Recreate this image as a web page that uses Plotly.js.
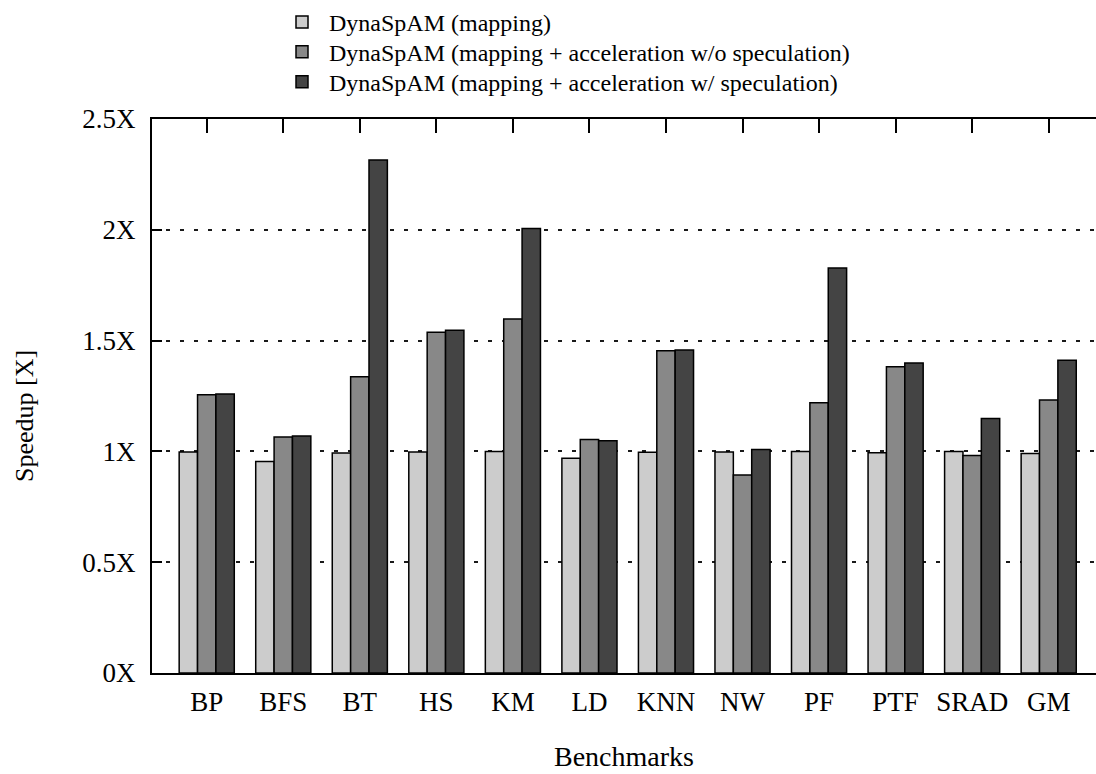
<!DOCTYPE html>
<html>
<head>
<meta charset="utf-8">
<script src="https://cdn.plot.ly/plotly-3.0.1.min.js"></script>
<style>html,body{margin:0;padding:0;background:#fff;}#chart{width:1096px;height:774px;}</style>
</head>
<body>
<div id="chart"></div>
<script>
const benchmarks = ["BP","BFS","BT","HS","KM","LD","KNN","NW","PF","PTF","SRAD","GM"];
const seriesNames = [
  "DynaSpAM (mapping)",
  "DynaSpAM (mapping + acceleration w/o speculation)",
  "DynaSpAM (mapping + acceleration w/ speculation)"
];
const mapping      = [0.997, 0.954, 0.993, 0.997, 1.000, 0.969, 0.996, 0.997, 1.000, 0.994, 1.000, 0.991];
const accelNoSpec  = [1.256, 1.065, 1.337, 1.538, 1.598, 1.054, 1.454, 0.894, 1.219, 1.382, 0.981, 1.232];
const accelSpec    = [1.259, 1.069, 2.315, 1.547, 2.006, 1.048, 1.458, 1.009, 1.828, 1.399, 1.148, 1.411];
const yTicks = [0, 0.5, 1, 1.5, 2, 2.5];
const yTickText = ["0X", "0.5X", "1X", "1.5X", "2X", "2.5X"];

const colors = ["#cccccc", "#888888", "#444444"];
const values = [mapping, accelNoSpec, accelSpec];
const legendIds = ["legend", "legend2", "legend3"];
const FONT = "Liberation Serif";

const traces = values.map((v, i) => ({
  type: "bar",
  name: seriesNames[i],
  legend: legendIds[i],
  x: benchmarks,
  y: v,
  marker: {color: colors[i], line: {color: "#000", width: 1.5}},
  hoverinfo: "x+y+name"
}));
// invisible helper trace carrying the top tick axis
traces.push({type: "scatter", x: benchmarks, y: benchmarks.map(() => null), xaxis: "x2", yaxis: "y",
  showlegend: false, hoverinfo: "skip", mode: "markers", marker: {opacity: 0}});

const W = 1096, H = 774, ML = 152, MR = 0, MT = 117, MB = 101;
const PW = W - ML - MR, PH = H - MT - MB;
const px2x = p => (p - ML) / PW;
const px2y = p => (H - MB - p) / PH;

function legendAt(rowCenter) {
  return {
    x: px2x(275), xanchor: "left", y: px2y(rowCenter), yanchor: "middle",
    orientation: "v", itemwidth: 44,
    font: {family: FONT, size: 24, color: "#000"},
    bgcolor: "rgba(0,0,0,0)", borderwidth: 0, itemclick: false, itemdoubleclick: false
  };
}

const xr = [-0.715, 11.618];
const layout = {
  width: W, height: H,
  margin: {l: ML, r: MR, t: MT, b: MB},
  paper_bgcolor: "#fff", plot_bgcolor: "#fff",
  font: {family: FONT, size: 27, color: "#000"},
  barmode: "group", bargap: 0.28, bargroupgap: 0,
  showlegend: true,
  legend: legendAt(20),
  legend2: legendAt(50),
  legend3: legendAt(80),
  xaxis: {
    type: "category", categoryorder: "array", categoryarray: benchmarks,
    range: xr, showline: true, linecolor: "#000", linewidth: 2,
    ticks: "", showgrid: false, zeroline: false,
    tickfont: {family: FONT, size: 27, color: "#000"},
    ticklabelstandoff: 4,
    title: {text: "Benchmarks", font: {family: FONT, size: 28, color: "#000"}, standoff: 30}
  },
  xaxis2: {
    type: "category", categoryorder: "array", categoryarray: benchmarks,
    range: xr, overlaying: "x", side: "top", anchor: "y",
    showline: true, linecolor: "#000", linewidth: 2,
    ticks: "inside", ticklen: 14, tickwidth: 1.5, tickcolor: "#000",
    showticklabels: false, showgrid: false, zeroline: false
  },
  yaxis: {
    range: [0, 2.5], tickmode: "array", tickvals: yTicks, ticktext: yTickText,
    showline: true, linecolor: "#000", linewidth: 2,
    ticks: "inside", ticklen: 10, tickwidth: 1.5, tickcolor: "#000",
    showgrid: true, gridcolor: "#1a1a1a", gridwidth: 1.5, griddash: "4px,10px",
    zeroline: false,
    tickfont: {family: FONT, size: 27, color: "#000"},
    ticklabelstandoff: 9
  },
  annotations: [{
    text: "Speedup [X]", textangle: -90, xref: "paper", yref: "paper",
    x: px2x(25), y: px2y(415), xanchor: "center", yanchor: "middle",
    showarrow: false, font: {family: FONT, size: 26, color: "#000"}
  }]
};

Plotly.newPlot("chart", traces, layout, {displayModeBar: false});
</script>
</body>
</html>
